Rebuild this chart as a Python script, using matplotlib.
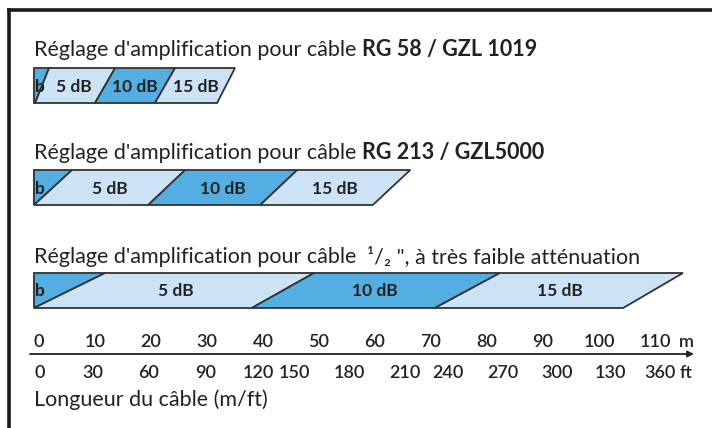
import matplotlib.pyplot as plt
from matplotlib.patches import Polygon

plt.rcParams['font.family'] = ['Lato', 'DejaVu Sans']

# --- data -------------------------------------------------------------
segments = ["b", "5 dB", "10 dB", "15 dB"]

# segment boundaries along each band in metres (upper edge / lower edge)
rg58_top = [-0.9, 1.8, 13.6, 24.3, 35.0]
rg58_bot = [-0.9, -0.7, 10.0, 20.7, 31.8]
rg213_top = [-0.9, 5.9, 26.1, 46.1, 66.3]
rg213_bot = [-0.9, -0.9, 19.5, 39.5, 59.6]
half_top = [-0.9, 11.8, 49.1, 82.3, 115.0]
half_bot = [-0.9, -0.9, 38.0, 70.7, 104.3]

m_ticks = [0, 10, 20, 30, 40, 50, 60, 70, 80, 90, 100, 110]
ft_labels = ["0", "30", "60", "90", "120", "150", "180", "210", "240",
             "270", "300", "130", "360"]
ft_pos = [0.2, 9.6, 19.6, 29.8, 39.1, 45.7, 55.5, 65.4, 73.0, 82.9,
          92.5, 102.0, 110.9]

# --- layout -----------------------------------------------------------
W, H = 712, 428
PX_PER_M = 5.6
X0 = 39
DARK = '#55aee1'
LIGHT = '#cce3f6'
EDGE = '#333333'
TXT = '#222222'
seg_colors = [DARK, LIGHT, DARK, LIGHT]
FS_TITLE = 15.5
FS_SEG = 12.5
FS_TICK = 13

fig = plt.figure(figsize=(W / 100, H / 100), dpi=100)
ax = fig.add_axes([0, 0, 1, 1])
ax.set_xlim(-X0 / PX_PER_M, (W - X0) / PX_PER_M)
ax.set_ylim(H, 0)
ax.axis('off')


def band(top, bot, y0, y1):
    for i, lab in enumerate(segments):
        pts = [(top[i], y0), (top[i + 1], y0), (bot[i + 1], y1), (bot[i], y1)]
        ax.add_patch(Polygon(pts, closed=True, fc=seg_colors[i], ec=EDGE,
                             lw=1.3, joinstyle='miter'))
        ym = (y0 + y1) / 2 + 1
        if lab == "b":
            ax.text(top[0] + 0.1, ym, lab, ha='left', va='center',
                    fontsize=FS_SEG, fontweight='bold', color=TXT)
        else:
            xm = (top[i] + top[i + 1] + bot[i] + bot[i + 1]) / 4
            ax.text(xm, ym, lab, ha='center', va='center',
                    fontsize=FS_SEG, fontweight='bold', color=TXT)


def title(y, normal, bold, after=""):
    t = ax.text(-0.9, y, normal, ha='left', va='bottom', fontsize=FS_TITLE,
                color=TXT)
    t2 = ax.annotate(bold, xy=(1, 0), xycoords=t, ha='left', va='bottom',
                     fontsize=FS_TITLE, fontweight='bold', color=TXT)
    if after:
        ax.annotate(after, xy=(1, 0), xycoords=t2, ha='left', va='bottom',
                    fontsize=FS_TITLE, color=TXT)


title(60, "Réglage d'amplification pour câble ", "RG 58 / GZL 1019")
band(rg58_top, rg58_bot, 68, 103)

title(163, "Réglage d'amplification pour câble ", "RG 213 / GZL5000")
band(rg213_top, rg213_bot, 170, 205)

title(267, "Réglage d'amplification pour câble  ", "", "¹/₂ \", à très faible atténuation")
band(half_top, half_bot, 273, 308)

# --- length axis ------------------------------------------------------
ax.annotate("", xy=((694 - X0) / PX_PER_M, 354), xytext=((30 - X0) / PX_PER_M, 354),
            arrowprops=dict(arrowstyle='-|>', color=TXT, lw=1.3,
                            mutation_scale=9, shrinkA=0, shrinkB=0))
for m in m_ticks:
    ax.text(m, 347, str(m), ha='center', va='baseline', fontsize=FS_TICK,
            fontweight='semibold', color=TXT)
ax.text((686 - X0) / PX_PER_M, 347, "m", ha='center', va='baseline',
        fontsize=FS_TICK, fontweight='semibold', color=TXT)
for p, lab in zip(ft_pos, ft_labels):
    ax.text(p, 378, lab, ha='center', va='baseline', fontsize=FS_TICK,
            fontweight='semibold', color=TXT)
ax.text((686 - X0) / PX_PER_M, 378, "ft", ha='center', va='baseline',
        fontsize=FS_TICK, fontweight='semibold', color=TXT)

ax.text(-0.9, 406, "Longueur du câble (m/ft)", ha='left', va='baseline',
        fontsize=FS_TITLE, color=TXT)

# frame (left and top edges only)
ax.plot([(9 - X0) / PX_PER_M, (9 - X0) / PX_PER_M], [H, 10], color='#1a1a1a', lw=2.6,
        solid_capstyle='projecting')
ax.plot([(9 - X0) / PX_PER_M, (W + 5 - X0) / PX_PER_M], [10, 10], color='#1a1a1a',
        lw=2.6, solid_capstyle='projecting')

fig.savefig('out.png', dpi=100)
